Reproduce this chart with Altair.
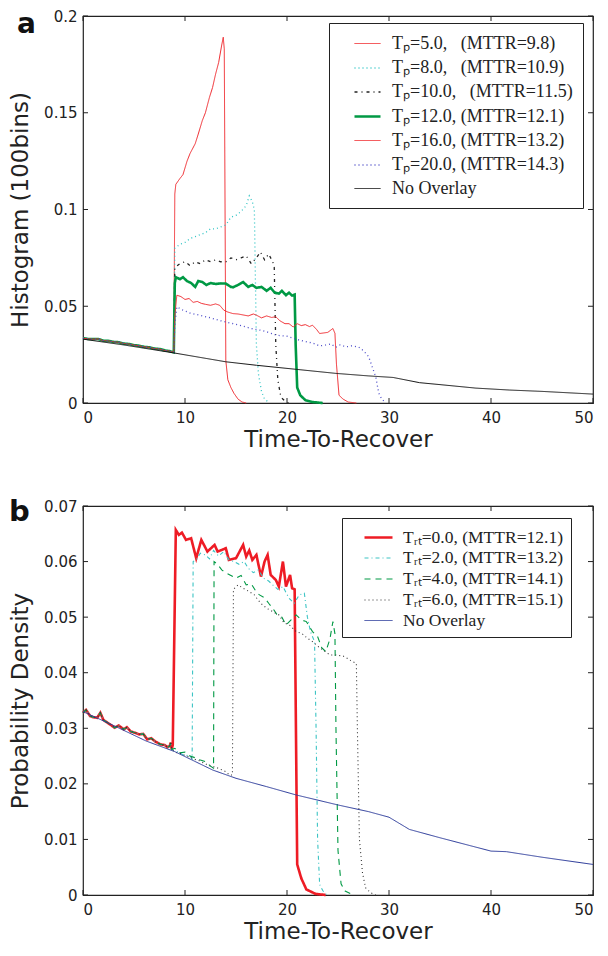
import altair as alt
import pandas as pd

# ---------------- Panel a data ----------------
pre_t = [0.0, 0.5, 1.0, 1.5, 2.0, 2.5, 3.0, 3.5, 4.0, 4.5, 5.0, 5.5, 6.0, 6.5, 7.0, 7.5, 8.0, 8.5, 8.9]
pre_v = [0.0335, 0.0331, 0.0330, 0.0331, 0.0322, 0.0321, 0.0316, 0.0314, 0.0307, 0.0305, 0.0299, 0.0296,
         0.0290, 0.0288, 0.0281, 0.0279, 0.0272, 0.0268, 0.0262]

a5_t = [9.0, 9.1, 9.5, 9.8, 10.2, 10.5, 11.0, 11.3, 11.7, 12.0, 12.4, 12.7, 13.0, 13.3, 13.6, 13.75, 13.85,
        14.0, 14.2, 14.5, 14.8, 15.2, 15.6, 16.0]
a5_v = [0.108, 0.113, 0.116, 0.118, 0.125, 0.129, 0.134, 0.139, 0.146, 0.150, 0.158, 0.163, 0.170, 0.176,
        0.185, 0.189, 0.183, 0.022, 0.012, 0.008, 0.005, 0.002, 0.0005, 0.0]

a8_t = [9.0, 9.5, 10.0, 10.5, 11.0, 11.5, 12.0, 12.5, 13.0, 13.5, 14.0, 14.5, 15.0, 15.5, 16.0, 16.3, 16.6,
        16.8, 17.0, 17.2, 17.5, 17.8, 18.3]
a8_v = [0.080, 0.082, 0.083, 0.085, 0.086, 0.087, 0.088, 0.090, 0.090, 0.091, 0.092, 0.096, 0.097, 0.099,
        0.102, 0.107, 0.104, 0.100, 0.030, 0.015, 0.006, 0.002, 0.0]

a10_t = [9.0, 9.5, 10.0, 10.5, 11.0, 11.5, 12.0, 12.5, 13.0, 13.5, 14.0, 14.5, 15.0, 15.5, 16.0, 16.5, 17.0,
         17.4, 17.8, 18.2, 18.6, 18.75, 18.9, 19.1, 19.4, 19.8, 20.2]
a10_v = [0.070, 0.072, 0.073, 0.071, 0.073, 0.072, 0.074, 0.073, 0.074, 0.073, 0.073, 0.075, 0.074, 0.075,
         0.076, 0.072, 0.075, 0.078, 0.074, 0.077, 0.073, 0.070, 0.030, 0.012, 0.003, 0.001, 0.0]

a12_t = [9.0, 9.1, 9.5, 9.8, 10.2, 10.6, 11.0, 11.3, 11.7, 12.1, 12.5, 13.0, 13.5, 14.0, 14.5, 14.7, 15.2,
         15.7, 16.2, 16.6, 17.0, 17.5, 18.0, 18.4, 18.8, 19.2, 19.5, 19.9, 20.2, 20.5, 20.75, 20.85, 21.0,
         21.3, 21.8, 22.5, 23.5]
a12_v = [0.062, 0.065, 0.064, 0.065, 0.063, 0.062, 0.060, 0.063, 0.0625, 0.061, 0.062, 0.0615, 0.0618,
         0.0617, 0.060, 0.0598, 0.061, 0.0625, 0.060, 0.061, 0.0595, 0.060, 0.058, 0.0595, 0.057, 0.0565,
         0.058, 0.0557, 0.057, 0.0555, 0.056, 0.030, 0.008, 0.004, 0.0015, 0.0005, 0.0]

a16_t = [9.0, 9.2, 9.6, 10.0, 10.4, 10.8, 11.2, 11.6, 12.0, 12.5, 13.0, 13.4, 13.8, 14.2, 14.7, 15.2, 15.7,
         16.2, 16.7, 17.0, 17.5, 18.0, 18.5, 18.9, 19.3, 19.8, 20.2, 20.6, 21.0, 21.4, 21.8, 22.2, 22.5,
         22.9, 23.2, 23.6, 24.0, 24.5, 24.7, 24.85, 25.1, 25.5, 26.0, 26.8]
a16_v = [0.045, 0.0557, 0.055, 0.0535, 0.054, 0.052, 0.0525, 0.0515, 0.051, 0.0505, 0.0512, 0.0505, 0.048,
         0.047, 0.0462, 0.046, 0.0455, 0.045, 0.046, 0.0454, 0.044, 0.045, 0.0442, 0.0446, 0.0425, 0.041,
         0.041, 0.0393, 0.041, 0.040, 0.0405, 0.0395, 0.0402, 0.038, 0.0359, 0.0362, 0.0365, 0.0385, 0.036,
         0.020, 0.004, 0.002, 0.0005, 0.0]

a20_t = [9.0, 9.2, 9.8, 10.5, 11.4, 12.5, 13.5, 14.7, 15.5, 16.5, 17.5, 18.0, 19.0, 20.0, 21.2, 22.0, 22.5,
         23.2, 23.8, 24.3, 24.8, 25.2, 25.8, 26.3, 27.0, 27.5, 28.0, 28.4, 28.7, 29.0, 29.3, 29.7]
a20_v = [0.040, 0.0497, 0.048, 0.0465, 0.0454, 0.044, 0.0425, 0.041, 0.040, 0.0385, 0.0375, 0.0368, 0.035,
         0.0345, 0.0325, 0.0315, 0.031, 0.0295, 0.030, 0.0305, 0.0288, 0.030, 0.029, 0.0295, 0.029, 0.027,
         0.024, 0.018, 0.0136, 0.005, 0.002, 0.0]

anone_t = [0.0, 4.0, 9.0, 14.0, 17.0, 20.9, 24.8, 28.0, 30.4, 33.0, 35.0, 38.5, 41.8, 45.0, 50.0]
anone_v = [0.0330, 0.0300, 0.0258, 0.0213, 0.0195, 0.0174, 0.0153, 0.0140, 0.0132, 0.0105, 0.0095, 0.0077,
           0.0067, 0.0060, 0.0046]

a_labels = ["Tₚ=5.0, \u2002(MTTR=9.8)\u2002\u2009", "Tₚ=8.0, \u2002(MTTR=10.9)\u2002\u2009",
            "Tₚ=10.0, \u2002(MTTR=11.5)\u2002\u2009", "Tₚ=12.0, (MTTR=12.1)\u2002\u2009",
            "Tₚ=16.0, (MTTR=13.2)\u2002\u2009", "Tₚ=20.0, (MTTR=14.3)\u2002\u2009", "No Overlay"]
a_colors = ["#f0282d", "#2fc4c4", "#222222", "#009944", "#f0282d", "#4a4ac8", "#111111"]
a_dash = [[1, 0], [1, 3], [3, 4, 1, 4], [1, 0], [1, 0], [1, 3], [1, 0]]
a_width = [1.0, 1.3, 1.3, 2.6, 1.0, 1.3, 1.0]

# ---------------- Panel b data ----------------
bpre_t = [0.0, 0.3, 0.7, 1.0, 1.4, 1.7, 2.0, 2.4, 2.8, 3.1, 3.5, 4.0, 4.3, 4.7, 5.1, 5.5, 5.9, 6.3, 6.7,
          7.1, 7.6, 8.0, 8.3, 8.5, 8.6, 8.7]
bpre_v = [0.0328, 0.0333, 0.0322, 0.0320, 0.0319, 0.0328, 0.0315, 0.0310, 0.0305, 0.0301, 0.0305, 0.0298,
          0.0302, 0.0294, 0.0292, 0.0289, 0.0290, 0.0280, 0.0282, 0.0276, 0.0271, 0.0270, 0.0266, 0.0268,
          0.0274, 0.0262]

b0_t = [8.8, 9.1, 9.4, 9.7, 10.1, 10.6, 11.1, 11.6, 12.2, 12.9, 13.2, 14.0, 14.3, 15.0, 15.7, 16.0, 16.3,
        16.6, 17.0, 17.45, 17.8, 18.1, 18.4, 18.9, 19.2, 19.6, 19.9, 20.3, 20.5, 20.75, 21.0, 21.4, 21.9,
        22.8, 23.8]
b0_v = [0.0270, 0.0657, 0.0648, 0.0652, 0.0639, 0.0642, 0.0606, 0.0639, 0.0618, 0.0630, 0.0618, 0.0624,
        0.0603, 0.0606, 0.0630, 0.0609, 0.0620, 0.0603, 0.0612, 0.0573, 0.0600, 0.0612, 0.0576, 0.0567,
        0.0555, 0.0600, 0.0555, 0.0576, 0.0552, 0.0550, 0.0055, 0.0030, 0.0010, 0.0002, 0.0]

b2_t = [9.0, 9.5, 10.0, 10.4, 10.7, 10.8, 11.1, 11.5, 12.0, 12.4, 12.8, 13.3, 13.8, 14.3, 14.8, 15.3,
        15.8, 16.2, 16.7, 17.2, 17.7, 18.2, 18.6, 19.1, 19.6, 20.2, 20.7, 21.2, 21.7, 22.0, 22.3, 22.7,
        22.85, 23.0, 23.2, 23.5, 23.9]
b2_v = [0.0260, 0.0256, 0.0250, 0.0252, 0.0245, 0.0600, 0.0603, 0.0615, 0.0612, 0.0605, 0.0620, 0.0610,
        0.0618, 0.0603, 0.0600, 0.0595, 0.0600, 0.0588, 0.0580, 0.0585, 0.0570, 0.0565, 0.0558, 0.0550,
        0.0555, 0.0534, 0.0525, 0.0540, 0.0543, 0.0500, 0.0474, 0.0456, 0.0300, 0.0100, 0.0019, 0.0008, 0.0]

b4_t = [9.0, 9.5, 10.0, 10.5, 11.0, 11.5, 12.0, 12.5, 12.8, 12.85, 13.2, 13.6, 14.0, 14.5, 15.0, 15.5,
        16.0, 16.5, 17.0, 17.3, 17.8, 18.2, 18.6, 19.0, 19.5, 19.9, 20.4, 20.9, 21.4, 21.9, 22.5, 23.0,
        23.4, 23.8, 24.2, 24.5, 24.7, 24.8, 25.0, 25.3, 25.7, 26.5]
b4_v = [0.0264, 0.0256, 0.0257, 0.0250, 0.0247, 0.0243, 0.0240, 0.0232, 0.0228, 0.0600, 0.0595, 0.0585,
        0.0580, 0.0575, 0.0570, 0.0575, 0.0558, 0.0560, 0.0545, 0.0540, 0.0535, 0.0525, 0.0516, 0.0505,
        0.0500, 0.0486, 0.0495, 0.0504, 0.0495, 0.0492, 0.0474, 0.0465, 0.0445, 0.0438, 0.0460, 0.0492,
        0.0470, 0.0300, 0.0080, 0.0020, 0.0007, 0.0]

b6_t = [9.0, 9.5, 10.0, 10.5, 11.0, 11.5, 12.0, 12.5, 13.0, 13.5, 14.0, 14.35, 14.65, 14.75, 15.2, 15.7,
        16.3, 16.8, 17.2, 17.6, 18.1, 18.6, 19.2, 19.7, 20.3, 20.9, 21.5, 22.0, 22.5, 23.0, 23.6, 24.2,
        24.8, 25.5, 26.0, 26.4, 26.8, 26.9, 27.1, 27.4, 27.7, 28.2, 28.7]
b6_v = [0.0257, 0.0255, 0.0251, 0.0248, 0.0244, 0.0241, 0.0236, 0.0232, 0.0230, 0.0226, 0.0222, 0.0216,
        0.0216, 0.0550, 0.0558, 0.0552, 0.0546, 0.0540, 0.0530, 0.0522, 0.0515, 0.0510, 0.0504, 0.0490,
        0.0485, 0.0474, 0.0470, 0.0462, 0.0456, 0.0448, 0.0440, 0.0432, 0.0432, 0.0430, 0.0425, 0.0420,
        0.0417, 0.0300, 0.0100, 0.0040, 0.0013, 0.0004, 0.0]

bnone_t = [0.0, 3.0, 6.2, 9.0, 12.7, 15.0, 18.0, 20.9, 25.0, 28.0, 30.0, 32.0, 35.0, 40.0, 41.5, 45.0, 50.0]
bnone_v = [0.0330, 0.0305, 0.0277, 0.0258, 0.0225, 0.0210, 0.0195, 0.0180, 0.0162, 0.0150, 0.0140, 0.0118,
           0.0103, 0.0079, 0.0078, 0.0068, 0.0055]

b_labels = ["Tᵣₜ=0.0, (MTTR=12.1)\u2002\u2002", "Tᵣₜ=2.0, (MTTR=13.2)\u2002\u2002",
            "Tᵣₜ=4.0, (MTTR=14.1)\u2002\u2002", "Tᵣₜ=6.0, (MTTR=15.1)\u2002\u2002", "No Overlay"]
b_colors = ["#ee1c25", "#3cc4c4", "#009944", "#333333", "#2b3a9a"]
b_dash = [[1, 0], [4, 3, 1, 3], [6, 5], [1, 3], [1, 0]]
b_width = [2.6, 1.1, 1.1, 1.1, 1.0]

x_ticks = [0, 10, 20, 30, 40, 50]
a_yticks = [0, 0.05, 0.1, 0.15, 0.2]
b_yticks = [0, 0.01, 0.02, 0.03, 0.04, 0.05, 0.06, 0.07]

W = 510
FONT = "DejaVu Sans"


def make_df(series_list):
    rows = []
    for name, ts, vs in series_list:
        for i, (t, v) in enumerate(zip(ts, vs)):
            rows.append({"series": name, "t": t, "v": v, "i": i})
    return pd.DataFrame(rows)


def panel(df, labels, colors, dashes, widths, ymax, yticks, ytitle, letter, leg, let, H):
    xaxis = alt.Axis(values=x_ticks, title="Time-To-Recover", ticks=False, domain=False, grid=False,
                     labelFont=FONT, labelFontSize=15, labelColor="#222", labelPadding=7,
                     titleFont=FONT, titleFontSize=23, titleFontWeight="normal", titleColor="#222",
                     titlePadding=3)
    yaxis = alt.Axis(values=yticks, title=ytitle, ticks=False, domain=False, grid=False, format="~g",
                     labelFont=FONT, labelFontSize=15, labelColor="#222", labelPadding=6,
                     titleFont=FONT, titleFontSize=23, titleFontWeight="normal", titleColor="#222",
                     titlePadding=11)
    xs = alt.Scale(domain=[0, 50], nice=False, zero=False)
    ys = alt.Scale(domain=[0, ymax], nice=False)
    legend = alt.Legend(orient="none", legendX=leg["x"], legendY=leg["y"], title=None,
                        fillColor="white", strokeColor="#222", padding=leg["pad"],
                        symbolType=leg["path"], symbolSize=400, symbolOffset=leg["soff"],
                        labelFont="Liberation Serif", labelFontSize=leg["fs"], labelColor="#222",
                        labelLimit=400, labelOffset=13, rowPadding=leg["rp"])
    lines = alt.Chart(df).mark_line(strokeCap="butt").encode(
        x=alt.X("t:Q", scale=xs, axis=xaxis),
        y=alt.Y("v:Q", scale=ys, axis=yaxis),
        order="i:Q",
        color=alt.Color("series:N", scale=alt.Scale(domain=labels, range=colors), legend=legend),
        strokeDash=alt.StrokeDash("series:N", scale=alt.Scale(domain=labels, range=dashes), legend=legend),
        strokeWidth=alt.StrokeWidth("series:N", scale=alt.Scale(type="ordinal", domain=labels, range=widths),
                                    legend=legend),
    )
    xt = pd.DataFrame({"tx": x_ticks})
    yt = pd.DataFrame({"ty": yticks})
    tick_style = dict(color="#222", strokeWidth=1)
    xbot = alt.Chart(xt).mark_rule(**tick_style).encode(
        x=alt.X("tx:Q", scale=xs, axis=xaxis), y=alt.value(H), y2=alt.value(H - 5))
    xtop = alt.Chart(xt).mark_rule(**tick_style).encode(
        x=alt.X("tx:Q", scale=xs, axis=xaxis), y=alt.value(0), y2=alt.value(5))
    yleft = alt.Chart(yt).mark_rule(**tick_style).encode(
        y=alt.Y("ty:Q", scale=ys, axis=yaxis), x=alt.value(0), x2=alt.value(5))
    yright = alt.Chart(yt).mark_rule(**tick_style).encode(
        y=alt.Y("ty:Q", scale=ys, axis=yaxis), x=alt.value(W - 5), x2=alt.value(W))
    lab = alt.Chart(pd.DataFrame({"l": [letter]})).mark_text(
        align="left", baseline="alphabetic", fontSize=let["fs"], fontWeight="bold", font=FONT, color="#111"
    ).encode(text="l:N", x=alt.value(let["dx"]), y=alt.value(let["y"]))
    return alt.layer(lines, xbot, xtop, yleft, yright, lab).properties(width=W, height=H)


dfa = make_df([(a_labels[0], pre_t + a5_t, pre_v + a5_v),
               (a_labels[1], pre_t + a8_t, pre_v + a8_v),
               (a_labels[2], pre_t + a10_t, pre_v + a10_v),
               (a_labels[3], pre_t + a12_t, pre_v + a12_v),
               (a_labels[4], pre_t + a16_t, pre_v + a16_v),
               (a_labels[5], pre_t + a20_t, pre_v + a20_v),
               (a_labels[6], anone_t, anone_v)])
dfb = make_df([(b_labels[0], bpre_t + b0_t, bpre_v + b0_v),
               (b_labels[1], bpre_t + b2_t, bpre_v + b2_v),
               (b_labels[2], bpre_t + b4_t, bpre_v + b4_v),
               (b_labels[3], bpre_t + b6_t, bpre_v + b6_v),
               (b_labels[4], bnone_t, bnone_v)])

pa = panel(dfa, a_labels, a_colors, a_dash, a_width, 0.2, a_yticks, "Histogram (100bins)", "a",
           dict(x=246, y=7, pad=10, soff=17, fs=18, rp=4, path="M-1.3,0H1.3"),
           dict(dx=-66, y=17, fs=28), 387)
pb = panel(dfb, b_labels, b_colors, b_dash, b_width, 0.07, b_yticks, "Probability Density", "b",
           dict(x=259, y=12, pad=8, soff=17, fs=17.5, rp=1, path="M-1.4,0H1.4"),
           dict(dx=-74, y=15, fs=29), 389)

chart = alt.vconcat(pa, pb, spacing=45).resolve_scale(
    color="independent", strokeDash="independent", strokeWidth="independent"
).resolve_legend(color="independent", strokeDash="independent", strokeWidth="independent").configure(
    background="white", padding=0
).configure_view(stroke="#222", strokeWidth=1.2)

chart.save("out.html", embed_options={"renderer": "svg", "actions": False})
